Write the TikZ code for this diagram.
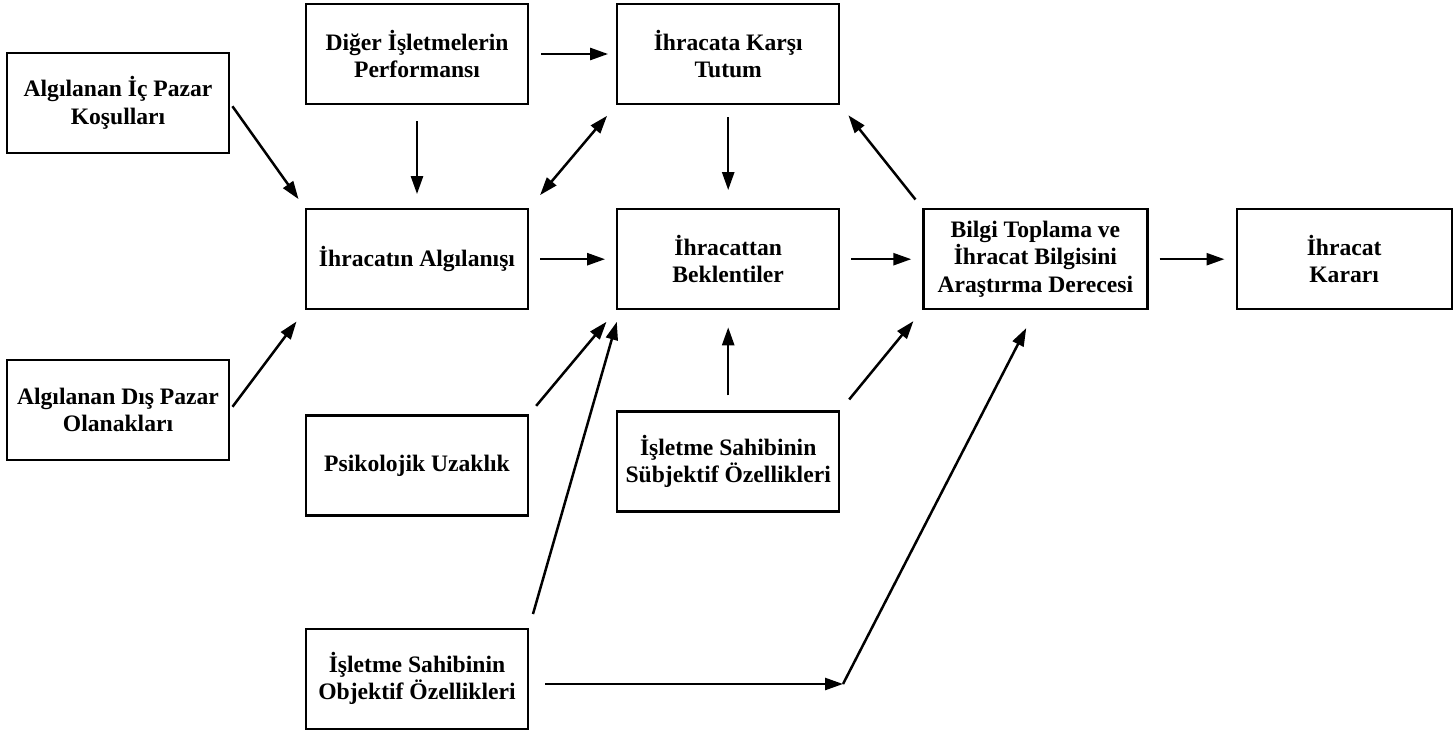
\documentclass[tikz,border=0pt]{standalone}
\usepackage{fontspec}
\setmainfont{Liberation Serif}
\usetikzlibrary{arrows.meta, positioning}

\begin{document}
\begin{tikzpicture}[x=0.5pt, y=-0.5pt,
      box/.style={rectangle, draw=black, line width=1.1pt, minimum width=111pt,
        minimum height=50pt, align=center, inner sep=2pt,
        font=\fontsize{11.8}{13.75}\selectfont\bfseries},
      arr/.style={-{Triangle[length=9pt, width=6pt]}, line width=1.25pt,
        shorten <=5.5pt, shorten >=5.5pt}
    ]
      \useasboundingbox (0,0) rectangle (1456,733);

      \node[box] (ic) at (118,103) {Algılanan İç Pazar\\Koşulları};
      \node[box] (dis) at (118,410) {Algılanan Dış Pazar\\Olanakları};

      \node[box] (diger) at (417,54) {Diğer İşletmelerin\\Performansı};
      \node[box, below=51.5pt of diger] (alg) {İhracatın Algılanışı};
      \node[box, below=52pt of alg] (psi) {Psikolojik Uzaklık};
      \node[box, below=55.5pt of psi] (obj) {İşletme Sahibinin\\Objektif Özellikleri};

      \node[box, right=43.5pt of diger] (tutum) {İhracata Karşı\\Tutum};
      \node[box, below=51.5pt of tutum] (bek) {İhracattan\\Beklentiler};
      \node[box, below=50pt of bek] (sub) {İşletme Sahibinin\\Sübjektif Özellikleri};

      \node[box, minimum width=112pt, right=41pt of bek] (bilgi)
        {Bilgi Toplama ve\\İhracat Bilgisini\\Araştırma Derecesi};
      \node[box, minimum width=107.5pt, right=43.5pt of bilgi] (karar) {İhracat\\Kararı};

      \coordinate (kirik) at (843,684);

      \draw[arr, shorten <=2pt] (ic.east) -- (alg.north west);
      \draw[arr, shorten <=2pt, shorten >=7pt] (dis.east) -- (alg.south west);
      \draw[arr, shorten <=6pt, shorten >=4pt] (diger.east) -- (tutum.west);
      \draw[arr, shorten <=8pt, shorten >=7pt] (diger.south) -- (alg.north);
      \draw[arr, {Triangle[length=9pt, width=6pt]}-{Triangle[length=9pt, width=6pt]},
        shorten <=8.5pt, shorten >=7pt] (alg.north east) -- (tutum.south west);
      \draw[arr, shorten <=6pt, shorten >=9pt] (tutum.south) -- (bek.north);
      \draw[arr] (alg.east) -- (bek.west);
      \draw[arr] (bek.east) -- (bilgi.west);
      \draw[arr, shorten >=6.5pt] (bilgi.north west) -- (tutum.south east);
      \draw[arr] (bilgi.east) -- (karar.west);
      \draw[arr, shorten >=7.5pt] (psi.north east) -- (bek.south west);
      \draw[arr, shorten <=7.5pt, shorten >=8.5pt] (sub.north) -- (bek.south);
      \draw[arr, shorten <=7pt, shorten >=7pt] (sub.north east) -- (bilgi.south west);
      \draw[arr, shorten <=7pt, shorten >=6pt] (obj.north east) -- ([xshift=2pt]bek.south west);
      \draw[arr, shorten <=8pt, shorten >=0pt] (obj.east |- kirik) -- (kirik);
      \draw[arr, shorten <=0pt, shorten >=10pt] (kirik) -- (bilgi.south);
    \end{tikzpicture}
\end{document}
